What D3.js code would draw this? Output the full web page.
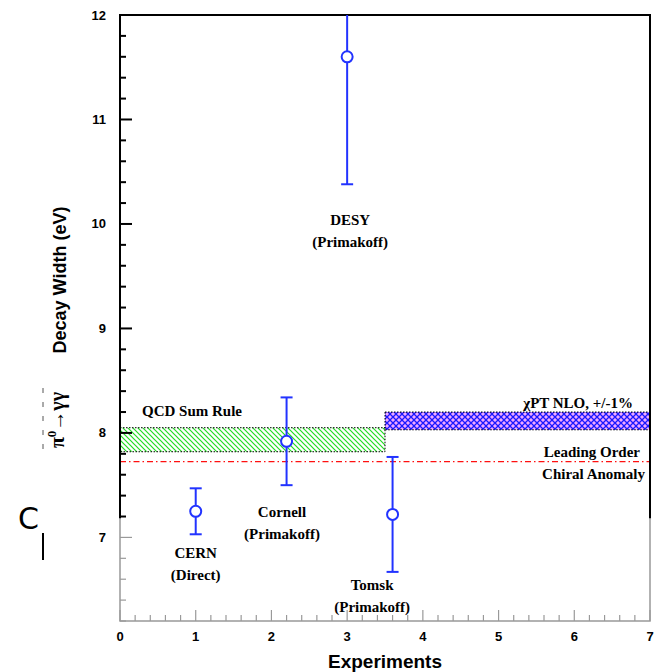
<!DOCTYPE html>
<html lang="en">
<head>
<meta charset="UTF-8">
<title>pi0 decay width</title>
<script src="https://cdnjs.cloudflare.com/ajax/libs/d3/7.8.5/d3.min.js"></script>
<style>
  body { margin: 0; background: #fff; }
  svg { display: block; }
  .tick-label { font-family: "Liberation Sans", Arial, sans-serif; font-weight: bold; font-size: 13px; }
  .note { font-family: "Liberation Serif", "Times New Roman", serif; font-weight: bold; font-size: 15px; }
  .title { font-family: "Liberation Sans", Arial, sans-serif; font-weight: bold; }
</style>
</head>
<body>
<div id="chart"></div>
<script>
// experiments
const names = ['CERN', 'Cornell', 'DESY', 'Tomsk'];
const methods = ['(Direct)', '(Primakoff)', '(Primakoff)', '(Primakoff)'];
const expX = [1, 2.2, 3, 3.6];
const widths = [7.25, 7.92, 11.6, 7.22];
const errors = [0.22, 0.42, 1.22, 0.55];
// where each name sits, in data units
const labelX = [1, 2.14, 3.04, 3.33];
const labelY = [6.8, 7.2, 9.99, 6.5];

// theory bands [x0, x1, lo, hi]
const qcdBand = [0, 3.5, 7.82, 8.05];
const chptBand = [3.5, 7, 8.03, 8.2];
const leadingOrder = 7.725;

const xTicks = [0, 1, 2, 3, 4, 5, 6, 7];
const yTicks = [7, 8, 9, 10, 11, 12];

const W = 658, H = 672;
const x = d3.scaleLinear().domain([0, 7]).range([120, 650]);
const y = d3.scaleLinear().domain([6.2, 12]).range([621, 15]);
const grayFrom = 7.18; // below this the frame is drawn in grey

const svg = d3.select('#chart').append('svg')
  .attr('width', W).attr('height', H);

const defs = svg.append('defs');
const green = defs.append('pattern').attr('id', 'hatchGreen')
  .attr('patternUnits', 'userSpaceOnUse').attr('width', 5).attr('height', 5);
green.append('rect').attr('width', 5).attr('height', 5).attr('fill', '#fff');
green.append('path').attr('d', 'M-1,-1 L6,6 M-1,4 L1,6 M4,-1 L6,1')
  .attr('stroke', '#22dd22').attr('stroke-width', 1.2);

const cross = defs.append('pattern').attr('id', 'hatchBlue')
  .attr('patternUnits', 'userSpaceOnUse').attr('width', 6).attr('height', 6);
cross.append('rect').attr('width', 6).attr('height', 6).attr('fill', '#f2a8ff');
cross.append('path').attr('d', 'M0,0 L6,6 M6,0 L0,6')
  .attr('stroke', '#1a1aff').attr('stroke-width', 1.3);

defs.append('clipPath').attr('id', 'plotClip')
  .append('rect').attr('x', x(0)).attr('y', y(12)).attr('width', x(7) - x(0)).attr('height', y(6.2) - y(12));

// bands
function band(b, fill) {
  svg.append('rect')
    .attr('x', x(b[0])).attr('y', y(b[3]))
    .attr('width', x(b[1]) - x(b[0])).attr('height', y(b[2]) - y(b[3]))
    .attr('fill', fill)
    .attr('stroke', '#000').attr('stroke-width', 1).attr('stroke-dasharray', '1.5,1.5');
}
band(qcdBand, 'url(#hatchGreen)');
band(chptBand, 'url(#hatchBlue)');

// leading order line
svg.append('line')
  .attr('x1', x(0)).attr('x2', x(7))
  .attr('y1', y(leadingOrder)).attr('y2', y(leadingOrder))
  .attr('stroke', '#ff1010').attr('stroke-width', 1.3)
  .attr('stroke-dasharray', '6,3,1.5,3');

// frame: black on top, grey in the lower part
const frame = svg.append('g').attr('fill', 'none');
frame.append('path')
  .attr('d', `M${x(0)},${y(grayFrom)} L${x(0)},${y(12)} L${x(7)},${y(12)} L${x(7)},${y(grayFrom)}`)
  .attr('stroke', '#000').attr('stroke-width', 2);
frame.append('path')
  .attr('d', `M${x(0)},${y(grayFrom)} L${x(0)},${y(6.2)} L${x(7)},${y(6.2)} L${x(7)},${y(grayFrom)}`)
  .attr('stroke', '#999').attr('stroke-width', 1.5);

// y ticks
const yMinor = d3.range(6.2, 12.001, 0.2);
svg.append('g').selectAll('line').data(yMinor).join('line')
  .attr('x1', x(0))
  .attr('x2', d => x(0) + (Math.abs(d - Math.round(d)) < 0.01 ? 12 : 6))
  .attr('y1', d => y(d)).attr('y2', d => y(d))
  .attr('stroke', d => d < grayFrom ? '#999' : '#000')
  .attr('stroke-width', d => d < grayFrom ? 1.2 : 2);
svg.append('g').selectAll('text').data(yTicks).join('text')
  .attr('class', 'tick-label')
  .attr('x', 106).attr('y', d => y(d) + 4.5)
  .attr('text-anchor', 'end')
  .text(d => d);

// x ticks
const xMinor = d3.range(0, 7.001, 0.2);
svg.append('g').selectAll('line').data(xMinor).join('line')
  .attr('x1', d => x(d)).attr('x2', d => x(d))
  .attr('y1', y(6.2))
  .attr('y2', d => y(6.2) - (Math.abs(d - Math.round(d)) < 0.01 ? 11 : 6))
  .attr('stroke', '#999').attr('stroke-width', 1.2);
svg.append('g').selectAll('text').data(xTicks).join('text')
  .attr('class', 'tick-label')
  .attr('x', d => x(d)).attr('y', 641)
  .attr('text-anchor', 'middle')
  .text(d => d);

// error bars and points
const pts = svg.append('g').attr('clip-path', 'url(#plotClip)');
const bars = pts.selectAll('g').data(names).join('g')
  .attr('stroke', '#2233ff').attr('stroke-width', 2);
bars.append('line')
  .attr('x1', (d, i) => x(expX[i])).attr('x2', (d, i) => x(expX[i]))
  .attr('y1', (d, i) => y(widths[i] + errors[i])).attr('y2', (d, i) => y(widths[i] - errors[i]));
bars.append('line')
  .attr('x1', (d, i) => x(expX[i]) - 6).attr('x2', (d, i) => x(expX[i]) + 6)
  .attr('y1', (d, i) => y(widths[i] + errors[i])).attr('y2', (d, i) => y(widths[i] + errors[i]));
bars.append('line')
  .attr('x1', (d, i) => x(expX[i]) - 6).attr('x2', (d, i) => x(expX[i]) + 6)
  .attr('y1', (d, i) => y(widths[i] - errors[i])).attr('y2', (d, i) => y(widths[i] - errors[i]));
bars.append('circle')
  .attr('cx', (d, i) => x(expX[i])).attr('cy', (d, i) => y(widths[i]))
  .attr('r', 5.5).attr('fill', '#fff');

// experiment labels
const labels = svg.append('g').attr('class', 'note').attr('text-anchor', 'middle');
labels.selectAll('text.name').data(names).join('text')
  .attr('class', 'name')
  .attr('x', (d, i) => x(labelX[i])).attr('y', (d, i) => y(labelY[i]))
  .text(d => d);
labels.selectAll('text.method').data(methods).join('text')
  .attr('class', 'method')
  .attr('x', (d, i) => x(labelX[i])).attr('y', (d, i) => y(labelY[i]) + 22)
  .text(d => d);

// theory labels
svg.append('text').attr('class', 'note')
  .attr('x', 142).attr('y', y(8.16)).text('QCD Sum Rule');
svg.append('text').attr('class', 'note').attr('text-anchor', 'end')
  .attr('x', 633).attr('y', y(8.24)).text('\u03c7PT NLO, +/-1%');
svg.append('text').attr('class', 'note').attr('text-anchor', 'end')
  .attr('x', 640).attr('y', y(leadingOrder) - 5).text('Leading Order');
svg.append('text').attr('class', 'note').attr('text-anchor', 'end')
  .attr('x', 645).attr('y', y(leadingOrder) + 17).text('Chiral Anomaly');

// axis titles
svg.append('text').attr('class', 'title')
  .attr('x', 385).attr('y', 668).attr('text-anchor', 'middle')
  .attr('font-size', 19).text('Experiments');
svg.append('text').attr('class', 'title')
  .attr('transform', 'translate(66,280) rotate(-90)')
  .attr('text-anchor', 'middle').attr('font-size', 18)
  .text('Decay Width (eV)');
svg.append('text')
  .attr('transform', 'translate(64,420) rotate(-90)')
  .attr('text-anchor', 'middle')
  .attr('font-family', '"Liberation Serif", serif').attr('font-size', 20)
  .attr('font-weight', 'bold')
  .html('\u03c0<tspan dy="-8" font-size="13">0</tspan><tspan dy="8">\u2192\u03b3\u03b3</tspan>');
// left-over fragments of the original label
svg.append('line')
  .attr('x1', 43).attr('x2', 43).attr('y1', 388).attr('y2', 458)
  .attr('stroke', '#555').attr('stroke-width', 1).attr('stroke-dasharray', '5,9');
svg.append('text')
  .attr('x', 18).attr('y', 529)
  .attr('font-family', '"DejaVu Sans", sans-serif').attr('font-size', 30)
  .text('C');
svg.append('line')
  .attr('x1', 43).attr('x2', 43).attr('y1', 533).attr('y2', 560)
  .attr('stroke', '#000').attr('stroke-width', 2);
</script>
</body>
</html>
